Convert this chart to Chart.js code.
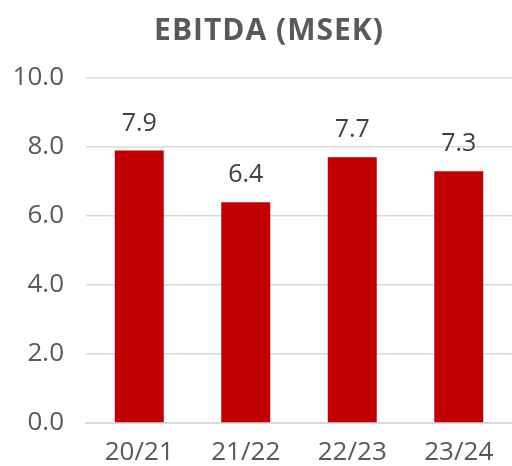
<!DOCTYPE html>
<html>
<head>
<meta charset="utf-8">
<script src="https://cdn.jsdelivr.net/npm/chart.js@4/dist/chart.umd.min.js"></script>
<style>
  body { margin: 0; background: #fff; }
  #wrap { width: 512px; height: 466px; }
</style>
</head>
<body>
<div id="wrap"><canvas id="ebitdaChart" width="512" height="466"></canvas></div>
<script>
// data
var periods = ["20/21", "21/22", "22/23", "23/24"];
var ebitda = [7.9, 6.4, 7.7, 7.3];
var yTicks = [0, 2, 4, 6, 8, 10];

var FONT = "'Open Sans', sans-serif";

// titel + värden över staplarna
var labelPlugin = {
  id: "labels",
  afterDatasetsDraw: function (chart) {
    var ctx = chart.ctx;
    ctx.save();
    ctx.fillStyle = "#404040";
    ctx.font = "25px " + FONT;
    ctx.textAlign = "center";
    ctx.textBaseline = "middle";
    chart.getDatasetMeta(0).data.forEach(function (bar, i) {
      ctx.fillText(ebitda[i].toFixed(1), bar.x, bar.y - 27);
    });
    ctx.fillStyle = "#595959";
    ctx.font = "bold 30px " + FONT;
    ctx.letterSpacing = "1px";
    ctx.fillText("EBITDA (MSEK)", 269, 31);
    ctx.restore();
  },
};

new Chart(document.getElementById("ebitdaChart"), {
  type: "bar",
  data: {
    labels: periods,
    datasets: [
      {
        data: ebitda,
        backgroundColor: "#C00000",
        categoryPercentage: 1,
        barPercentage: 0.46,
      },
    ],
  },
  options: {
    responsive: false,
    animation: false,
    layout: { padding: { top: 78, right: 0, left: 0, bottom: 0 } },
    plugins: { legend: { display: false }, tooltip: { enabled: false } },
    scales: {
      y: {
        min: 0,
        max: 10,
        afterBuildTicks: function (scale) {
          scale.ticks = yTicks.map(function (v) { return { value: v }; });
        },
        afterFit: function (scale) { scale.width = 86; },
        ticks: {
          color: "#595959",
          font: { size: 26, family: FONT },
          padding: 22,
          callback: function (v) { return Number(v).toFixed(1); },
        },
        grid: { color: "#d9d9d9", lineWidth: 1.5, drawTicks: false },
        border: { display: false },
      },
      x: {
        afterFit: function (scale) { scale.height = 43; },
        ticks: {
          color: "#595959",
          font: { size: 26, family: FONT },
          padding: 14,
        },
        grid: { display: false, drawTicks: false },
        border: { color: "#d9d9d9", width: 2 },
      },
    },
  },
  plugins: [labelPlugin],
});
</script>
</body>
</html>
